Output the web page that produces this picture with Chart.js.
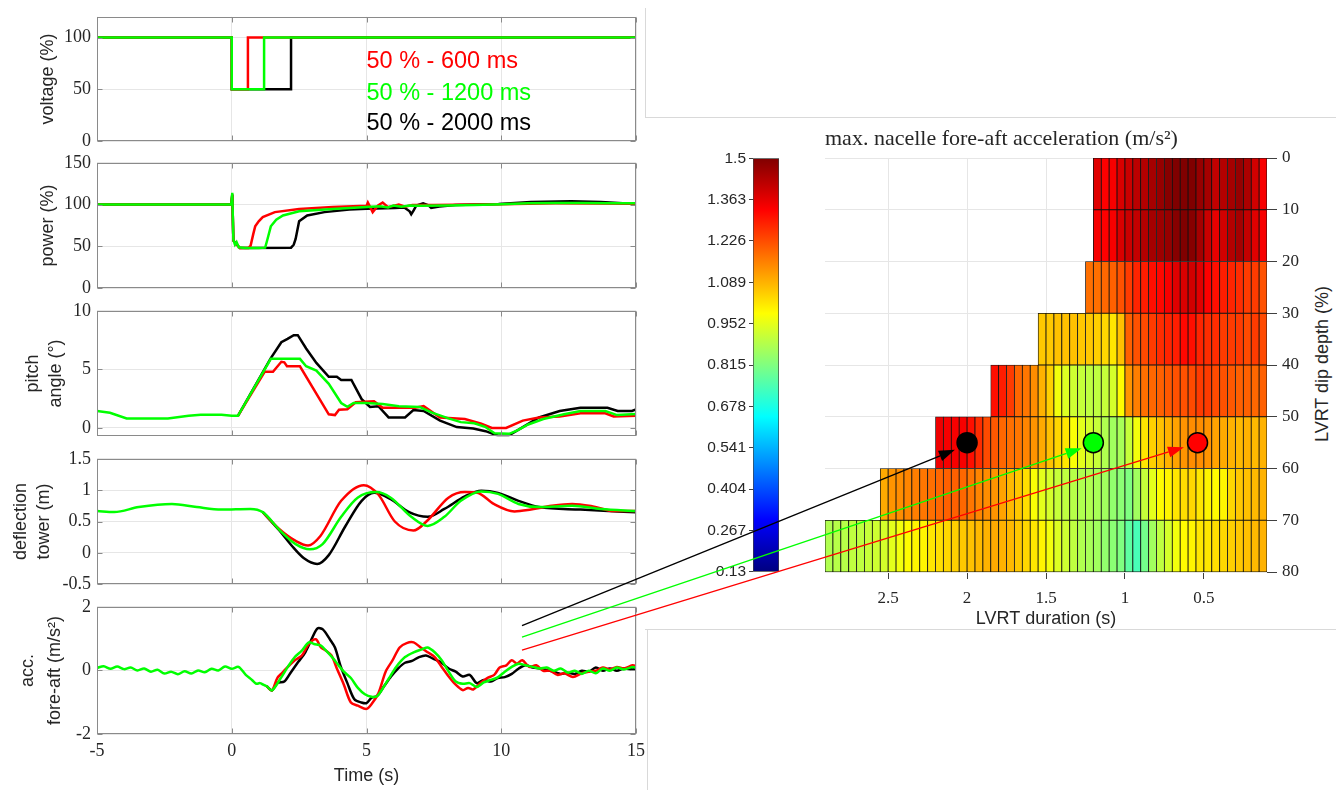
<!DOCTYPE html>
<html>
<head>
<meta charset="utf-8">
<title>LVRT response and nacelle fore-aft acceleration</title>
<script src="https://cdn.jsdelivr.net/npm/chart.js@4.4.1/dist/chart.umd.min.js"></script>
<style>
  html, body { margin: 0; padding: 0; background: #fff; }
  #page { position: relative; width: 1336px; height: 790px; overflow: hidden; }
  canvas { position: absolute; }
  .sep { position: absolute; background: #d9d9d9; }
  #depthTitle {
    position: absolute; left: 1322px; top: 364px;
    transform: translate(-50%, -50%) rotate(-90deg);
    font: 18px "Liberation Sans", Arial, sans-serif; color: #262626; white-space: nowrap;
  }
</style>
</head>
<body>
<div id="page">
  <div class="sep" style="left:645px;top:8px;width:1px;height:110px"></div>
  <div class="sep" style="left:645px;top:117px;width:691px;height:1px"></div>
  <div class="sep" style="left:645px;top:629px;width:691px;height:1px"></div>
  <div class="sep" style="left:647px;top:629px;width:1px;height:161px"></div>

  <canvas id="voltageChart" width="660" height="158" style="left:0;top:0"></canvas>
  <canvas id="powerChart" width="660" height="159" style="left:0;top:146px"></canvas>
  <canvas id="pitchChart" width="660" height="159" style="left:0;top:294px"></canvas>
  <canvas id="towerChart" width="660" height="159" style="left:0;top:442px"></canvas>
  <canvas id="accChart" width="660" height="200" style="left:0;top:590px"></canvas>
  <canvas id="colorbarChart" width="110" height="438" style="left:680px;top:146px"></canvas>
  <canvas id="heatmapChart" width="1336" height="790" style="left:0;top:0;z-index:3"></canvas>
  <div id="depthTitle">LVRT dip depth (%)</div>
</div>

<script>
// ---- time series data: [time (s), value] ----
const timeTicks = [-5, 0, 5, 10, 15];
const voltTicks = [0, 50, 100];
const powerTicks = [0, 50, 100, 150];
const pitchTicks = [0, 5, 10];
const towerTicks = [-0.5, 0, 0.5, 1, 1.5];
const accTicks = [-2, 0, 2];

const caseLabels = ["50 % - 600 ms", "50 % - 1200 ms", "50 % - 2000 ms"];
const caseColors = ["#ff0000", "#00ff00", "#000000"];
const labelTime = 5.0;
const labelLevels = [77, 46, 17];

const voltageRed = [[-5, 100], [0, 100], [0, 50], [0.6, 50], [0.6, 100], [15, 100]];
const voltageGreen = [[-5, 100], [0, 100], [0, 50], [1.2, 50], [1.2, 100], [15, 100]];
const voltageBlack = [[-5, 100], [0, 100], [0, 50], [2.2, 50], [2.2, 100], [15, 100]];

const powerGreen = [[-5, 100], [-0.02, 100], [0.02, 114], [0.06, 58], [0.12, 52], [0.18, 55], [0.26, 49],
  [0.5, 48], [1.0, 48], [1.24, 48.5], [1.32, 58], [1.45, 74], [1.65, 82], [1.9, 87], [2.5, 92], [3.75, 94.6],
  [5, 97], [5.5, 98], [5.8, 96.5], [6.0, 99], [6.3, 97.5], [6.6, 99], [7, 98.5], [8, 99], [9, 99.5],
  [10, 100.5], [11, 101.5], [12, 102], [13, 102], [14, 101.5], [15, 101.5]];
const powerRed = [[-5, 100], [-0.02, 100], [0.02, 112], [0.06, 57], [0.3, 48], [0.62, 48], [0.7, 51],
  [0.8, 65], [0.87, 74], [1.0, 80], [1.15, 85], [1.6, 91], [2.5, 94.6], [3.75, 97], [5, 98.5], [5.05, 102.5],
  [5.23, 91], [5.43, 99], [5.6, 102.5], [5.8, 97], [6.2, 100], [6.43, 97.6], [6.7, 99.5], [7.5, 99.5],
  [10, 100.5], [12, 101.5], [15, 101]];
const powerBlack = [[-5, 100], [-0.02, 100], [0.02, 112], [0.06, 57], [0.3, 48], [2.2, 48.5], [2.3, 52],
  [2.37, 59], [2.5, 80], [2.8, 87], [3.44, 91], [4.36, 94], [5, 95], [6.05, 96], [6.4, 96.5], [6.6, 92],
  [6.66, 88.5], [6.75, 93], [6.85, 99], [7.1, 101.4], [7.3, 99], [7.4, 96], [7.7, 97.6], [8.3, 99.5],
  [9.9, 100.6], [11.1, 103], [12.6, 104], [13.7, 103], [15, 100.6]];

const pitchGreen = [[-5, 1.45], [-4.52, 1.3], [-3.9, 0.82], [-2.37, 0.82], [-1.6, 1.04], [-1.15, 1.12],
  [-0.38, 1.12], [0, 1.04], [0.23, 1.04], [1.45, 5.9], [2.53, 5.9], [2.76, 5.27], [3.14, 4.9], [3.6, 3.77],
  [4.06, 2.13], [4.29, 1.8], [4.52, 2.13], [5.0, 2.13], [5.6, 2.05], [6.2, 1.86], [6.97, 1.8], [7.43, 1.31],
  [8.04, 0.82], [8.5, 0.5], [9.0, 0.4], [9.4, 0.1], [9.75, -0.45], [10.3, -0.5], [10.6, -0.2], [11.0, 0.3],
  [11.56, 0.77], [12.33, 1.17], [12.94, 1.45], [13.86, 1.45], [14.3, 1.1], [15, 1.2]];
const pitchRed = [[0.23, 1.04], [1.22, 4.8], [1.53, 4.8], [1.84, 5.65], [1.95, 5.6], [2.05, 5.27],
  [2.53, 5.27], [3.6, 1.17], [3.83, 1.1], [3.98, 1.55], [4.29, 1.6], [4.6, 2.2], [5.28, 2.27], [5.6, 1.72],
  [6.8, 1.72], [7.12, 1.86], [7.73, 0.9], [8.65, 0.77], [9.26, 0.36], [9.65, 0], [10.18, 0], [10.8, 0.63],
  [11.4, 0.9], [12.17, 0.98], [12.94, 1.26], [13.86, 1.26], [14.17, 0.98], [15, 1.04]];
const pitchBlack = [[0.23, 1.04], [1.45, 5.96], [1.84, 7.32], [2.07, 7.6], [2.3, 7.92], [2.45, 7.92],
  [2.76, 6.78], [3.14, 5.55], [3.6, 4.37], [3.9, 4.37], [4.06, 4.1], [4.44, 4.1], [4.82, 2.46], [5.13, 1.8],
  [5.44, 1.86], [5.82, 0.9], [6.43, 0.9], [6.74, 1.53], [7.12, 1.45], [7.73, 0.63], [8.35, 0.08],
  [8.96, -0.05], [9.42, -0.27], [9.88, -0.66], [10.26, -0.66], [10.8, 0.08], [11.4, 0.9], [12.17, 1.45],
  [12.94, 1.72], [13.94, 1.72], [14.32, 1.45], [14.85, 1.45], [15, 1.58]];

const towerGreen = [[-5, 0.667], [-4.36, 0.65], [-3.45, 0.73], [-2.22, 0.78], [-1.3, 0.73], [-0.38, 0.69],
  [0.69, 0.70], [1.15, 0.65], [1.76, 0.37], [2.37, 0.14], [2.9, 0.056], [3.37, 0.14], [4.06, 0.575],
  [4.67, 0.88], [5.36, 0.97], [5.9, 0.88], [6.66, 0.575], [7.27, 0.43], [7.89, 0.575], [8.5, 0.83],
  [9.26, 0.98], [9.88, 0.94], [10.64, 0.78], [11.4, 0.73], [12.63, 0.75], [13.7, 0.7], [15, 0.667]];
const towerRed = [[1.15, 0.65], [1.76, 0.38], [2.37, 0.19], [2.83, 0.117], [3.29, 0.27], [4.06, 0.83],
  [4.9, 1.08], [5.44, 0.93], [6.05, 0.5], [6.74, 0.356], [7.27, 0.52], [8.04, 0.88], [8.65, 0.97],
  [9.11, 0.96], [9.72, 0.78], [10.49, 0.66], [11.1, 0.69], [11.87, 0.75], [12.63, 0.78], [13.4, 0.74],
  [14.17, 0.667], [15, 0.667]];
const towerBlack = [[1.15, 0.65], [1.76, 0.36], [2.22, 0.117], [2.68, -0.087], [3.17, -0.178], [3.6, -0.036],
  [4.21, 0.42], [4.82, 0.83], [5.28, 0.957], [5.9, 0.855], [6.58, 0.65], [7.27, 0.575], [7.89, 0.7],
  [8.65, 0.9], [9.26, 0.99], [9.88, 0.957], [10.64, 0.83], [11.4, 0.73], [12.94, 0.69], [15, 0.646]];

const accGreen = [[-5, 0.08], [-4.75, 0.13], [-4.5, 0.05], [-4.25, 0.12], [-4, 0.04], [-3.75, 0.09],
  [-3.5, 0.0], [-3.25, 0.06], [-3, -0.04], [-2.75, 0.02], [-2.5, -0.1], [-2.25, -0.04], [-2, -0.12],
  [-1.75, -0.03], [-1.5, -0.1], [-1.25, 0.0], [-1, -0.06], [-0.75, 0.05], [-0.5, 0.0], [-0.25, 0.12],
  [0, 0.05], [0.25, 0.11], [0.52, -0.14], [0.75, -0.3], [0.91, -0.42], [1.05, -0.4], [1.17, -0.45],
  [1.3, -0.5], [1.49, -0.63], [1.82, -0.24], [2.08, 0.11], [2.34, 0.42], [2.6, 0.62], [2.86, 0.88],
  [3.05, 0.83], [3.31, 0.78], [3.5, 0.62], [3.77, 0.37], [3.96, 0.16], [4.16, -0.04], [4.42, -0.24],
  [4.68, -0.55], [4.94, -0.75], [5.19, -0.83], [5.39, -0.81], [5.58, -0.6], [5.84, -0.24], [6.1, 0.11],
  [6.43, 0.42], [6.75, 0.57], [7.08, 0.67], [7.27, 0.72], [7.53, 0.57], [7.79, 0.32], [8.05, -0.04],
  [8.31, -0.35], [8.57, -0.42], [8.83, -0.4], [9.09, -0.52], [9.35, -0.38], [9.61, -0.3], [9.87, -0.22],
  [10.13, -0.04], [10.39, 0.11], [10.65, 0.21], [10.9, 0.16], [11.17, 0.11], [11.43, 0.06], [11.69, 0.09],
  [11.95, -0.01], [12.21, 0.06], [12.47, -0.07], [12.73, -0.01], [12.99, -0.11], [13.25, -0.01],
  [13.51, -0.09], [13.77, 0.06], [14.03, -0.01], [14.29, 0.09], [14.55, 0.03], [14.87, 0.11], [15, 0.08]];
const accRed = [[1.3, -0.5], [1.49, -0.63], [1.69, -0.24], [1.88, -0.07], [2.08, 0.11], [2.34, 0.32],
  [2.6, 0.47], [2.86, 0.83], [3.12, 0.98], [3.31, 0.72], [3.5, 0.62], [3.7, 0.47], [3.9, 0.06], [4.16, -0.45],
  [4.42, -1.01], [4.68, -1.11], [5.0, -1.21], [5.19, -1.06], [5.45, -0.7], [5.71, -0.04], [5.97, 0.32],
  [6.23, 0.72], [6.49, 0.86], [6.75, 0.88], [7.01, 0.72], [7.27, 0.57], [7.53, 0.42], [7.79, 0.11],
  [8.05, -0.19], [8.31, -0.45], [8.57, -0.62], [8.77, -0.55], [8.96, -0.6], [9.22, -0.4], [9.48, -0.24],
  [9.74, -0.14], [9.94, 0.09], [10.19, 0.16], [10.39, 0.32], [10.58, 0.21], [10.78, 0.32], [11.04, 0.11],
  [11.3, 0.16], [11.56, -0.01], [11.82, -0.01], [12.08, -0.14], [12.34, -0.09], [12.66, -0.21],
  [12.99, -0.09], [13.25, -0.04], [13.51, -0.01], [13.77, 0.09], [14.03, 0.03], [14.29, 0.11],
  [14.55, 0.06], [14.87, 0.16], [15, 0.14]];
const accBlack = [[1.3, -0.5], [1.49, -0.63], [1.69, -0.4], [1.95, -0.35], [2.21, -0.04], [2.47, 0.27],
  [2.73, 0.57], [2.99, 1.03], [3.18, 1.32], [3.38, 1.29], [3.64, 0.98], [3.83, 0.72], [4.03, 0.16],
  [4.29, -0.4], [4.55, -0.91], [4.81, -1.01], [5.0, -1.03], [5.19, -0.86], [5.39, -0.81], [5.65, -0.5],
  [5.91, -0.19], [6.17, 0.06], [6.43, 0.24], [6.69, 0.3], [6.95, 0.42], [7.21, 0.47], [7.47, 0.37],
  [7.73, 0.27], [8.05, 0.06], [8.31, -0.04], [8.57, -0.19], [8.83, -0.14], [9.09, -0.4], [9.35, -0.3],
  [9.61, -0.35], [9.87, -0.24], [10.13, -0.21], [10.39, -0.11], [10.65, 0.06], [10.9, 0.16], [11.17, 0.09],
  [11.43, 0.06], [11.69, 0.01], [11.95, -0.04], [12.21, -0.11], [12.47, -0.07], [12.73, -0.11],
  [12.99, -0.01], [13.25, -0.04], [13.51, 0.09], [13.77, -0.01], [14.03, 0.06], [14.29, -0.01],
  [14.55, 0.06], [14.87, 0.03], [15, 0.05]];

// ---- heatmap data: max. nacelle fore-aft acceleration (m/s^2) ----
// upper edge of each duration bin (s), longest first
const cellDurations = [2.9, 2.85, 2.8, 2.75, 2.7, 2.65, 2.6, 2.55, 2.5, 2.45, 2.4, 2.35, 2.3, 2.25, 2.2,
  2.15, 2.1, 2.05, 2.0, 1.95, 1.9, 1.85, 1.8, 1.75, 1.7, 1.65, 1.6, 1.55, 1.5, 1.45, 1.4, 1.35, 1.3, 1.25,
  1.2, 1.15, 1.1, 1.05, 1.0, 0.95, 0.9, 0.85, 0.8, 0.75, 0.7, 0.65, 0.6, 0.55, 0.5, 0.45, 0.4, 0.35, 0.3,
  0.25, 0.2, 0.15];
const cellWidth = 0.05;
const dipDepthBins = [5, 15, 25, 35, 45, 55, 65, 75];
const accRow0 = [1.37, 1.33, 1.34, 1.38, 1.40, 1.42, 1.43, 1.45, 1.47, 1.49, 1.50, 1.50, 1.50, 1.47, 1.45,
  1.41, 1.43, 1.45, 1.47, 1.44, 1.39, 1.34];
const accRow10 = [1.34, 1.33, 1.34, 1.38, 1.40, 1.41, 1.43, 1.45, 1.46, 1.47, 1.49, 1.50, 1.49, 1.45, 1.40,
  1.36, 1.39, 1.43, 1.45, 1.41, 1.37, 1.34];
const accRow20 = [1.18, 1.18, 1.19, 1.20, 1.22, 1.25, 1.28, 1.29, 1.31, 1.32, 1.34, 1.37, 1.38, 1.39, 1.37,
  1.33, 1.31, 1.29, 1.28, 1.27, 1.25, 1.25, 1.22];
const accRow30 = [1.06, 1.06, 1.07, 1.07, 1.07, 1.06, 1.06, 1.05, 1.04, 1.02, 1.07, 1.20, 1.22, 1.23, 1.25,
  1.27, 1.28, 1.29, 1.32, 1.31, 1.28, 1.27, 1.27, 1.25, 1.25, 1.25, 1.23, 1.25, 1.23];
const accRow40 = [1.31, 1.29, 1.25, 1.19, 1.17, 1.14, 1.09, 1.05, 0.97, 0.94, 0.92, 0.91, 0.90, 0.90, 0.91,
  0.93, 0.99, 1.13, 1.16, 1.18, 1.19, 1.20, 1.21, 1.22, 1.22, 1.23, 1.25, 1.25, 1.23, 1.22, 1.21, 1.20,
  1.20, 1.19, 1.20];
const accRow50 = [1.35, 1.34, 1.34, 1.34, 1.31, 1.27, 1.23, 1.21, 1.19, 1.18, 1.17, 1.15, 1.13, 1.10, 1.07,
  1.04, 1.02, 0.98, 0.95, 0.93, 0.91, 0.88, 0.86, 0.87, 0.91, 0.97, 1.02, 1.05, 1.07, 1.09, 1.11, 1.13,
  1.14, 1.14, 1.13, 1.11, 1.10, 1.09, 1.08, 1.09, 1.08, 1.09];
const accRow60 = [1.10, 1.13, 1.14, 1.15, 1.16, 1.17, 1.18, 1.19, 1.20, 1.20, 1.19, 1.17, 1.15, 1.14, 1.13,
  1.11, 1.08, 1.06, 1.03, 0.98, 0.95, 0.93, 0.91, 0.90, 0.89, 0.88, 0.88, 0.87, 0.86, 0.84, 0.83, 0.815,
  0.86, 0.91, 0.95, 0.99, 1.00, 1.02, 1.03, 1.04, 1.02, 1.00, 0.99, 1.00, 1.04, 1.06, 1.07, 1.08, 1.09];
const accRow70 = [0.88, 0.89, 0.89, 0.90, 0.90, 0.91, 0.92, 0.93, 0.95, 0.97, 0.99, 1.00, 1.00, 1.02, 1.03,
  1.04, 1.05, 1.06, 1.07, 1.08, 1.09, 1.10, 1.09, 1.08, 1.06, 1.04, 1.02, 1.00, 0.97, 0.94, 0.92, 0.90,
  0.88, 0.87, 0.86, 0.84, 0.83, 0.815, 0.77, 0.74, 0.80, 0.86, 0.90, 0.93, 0.97, 0.99, 1.00, 1.02, 1.02,
  1.03, 1.04, 1.05, 1.06, 1.07, 1.08, 1.09];
const accRows = [accRow0, accRow10, accRow20, accRow30, accRow40, accRow50, accRow60, accRow70];
const durationTicks = [2.5, 2, 1.5, 1, 0.5];

const colorMin = 0.13;
const colorMax = 1.5;
const colorTicks = [0.13, 0.267, 0.404, 0.541, 0.678, 0.815, 0.952, 1.089, 1.226, 1.363, 1.5];

// marked cases on the map and the arrows pointing to them
const dotDuration = [2.0, 1.2, 0.54];
const dotDepth = [55, 55, 55];
const dotColors = ["#000000", "#00ff00", "#ff0000"];
const arrowStartTime = 10.77;
const arrowStartAcc = [1.41, 1.05, 0.64];
const arrowEndDuration = [2.077, 1.274, 0.626];
const arrowEndDepth = [56.4, 56.1, 55.9];

const SERIF = '"Liberation Serif", "Times New Roman", serif';
const SANS = '"Liberation Sans", Arial, sans-serif';
const TEXT = "#262626";

/**
 * MATLAB-like jet colormap, f in [0, 1]
 */
function jetColor(f) {
  const c = (v) => Math.round(255 * Math.min(1, Math.max(0, v)));
  return `rgb(${c(1.5 - Math.abs(4 * f - 3))}, ${c(1.5 - Math.abs(4 * f - 2))}, ${c(1.5 - Math.abs(4 * f - 1))})`;
}

function accelColor(v) {
  return jetColor((v - colorMin) / (colorMax - colorMin));
}

// Box around the axes with inward tick marks
const framePlugin = {
  id: "frame",
  afterDatasetsDraw(chart) {
    const { ctx, chartArea: a, scales } = chart;
    const l = Math.round(a.left) + 0.5, r = Math.round(a.right) - 0.5;
    const t = Math.round(a.top) + 0.5, b = Math.round(a.bottom) - 0.5;
    ctx.save();
    ctx.strokeStyle = "#8a8a8a";
    ctx.lineWidth = 1;
    ctx.strokeRect(l, t, r - l, b - t);
    ctx.beginPath();
    scales.x.ticks.forEach((tk) => {
      const px = Math.round(scales.x.getPixelForValue(tk.value)) + 0.5;
      ctx.moveTo(px, b); ctx.lineTo(px, b - 5);
      ctx.moveTo(px, t); ctx.lineTo(px, t + 5);
    });
    scales.y.ticks.forEach((tk) => {
      const py = Math.round(scales.y.getPixelForValue(tk.value)) + 0.5;
      ctx.moveTo(l, py); ctx.lineTo(l + 5, py);
      ctx.moveTo(r, py); ctx.lineTo(r - 5, py);
    });
    ctx.stroke();
    ctx.restore();
  },
};

// Case labels written inside the voltage panel
const caseLabelPlugin = {
  id: "caseLabels",
  afterDatasetsDraw(chart) {
    const { ctx, scales: { x, y } } = chart;
    ctx.save();
    ctx.font = "23.5px " + SANS;
    ctx.textBaseline = "middle";
    caseLabels.forEach((txt, i) => {
      ctx.fillStyle = caseColors[i];
      ctx.fillText(txt, x.getPixelForValue(labelTime), y.getPixelForValue(labelLevels[i]));
    });
    ctx.restore();
  },
};

/**
 * One time-series panel of the left column
 */
function timePanel(canvasId, series, yMin, yMax, yTicks, yTitle, titleOpts, opts) {
  const isBottom = !!opts.bottom;
  return new Chart(document.getElementById(canvasId), {
    type: "line",
    data: {
      datasets: series.map((s) => ({
        data: s.data,
        borderColor: s.color,
        borderWidth: 2.5,
        pointRadius: 0,
        fill: false,
        tension: opts.tension || 0,
        cubicInterpolationMode: opts.monotone ? "monotone" : "default",
      })),
    },
    options: {
      animation: false,
      responsive: false,
      events: [],
      layout: { padding: { left: 0, right: 24, top: 14, bottom: isBottom ? 0 : 14 } },
      plugins: { legend: { display: false }, tooltip: { enabled: false } },
      scales: {
        x: {
          type: "linear",
          min: -5,
          max: 15,
          afterBuildTicks: (s) => { s.ticks = timeTicks.map((v) => ({ value: v })); },
          afterFit: (s) => { s.height = isBottom ? 56 : 0; },
          ticks: {
            display: isBottom,
            font: { family: SERIF, size: 18 },
            color: TEXT,
            padding: 6,
            maxRotation: 0,
            callback: (v) => String(v),
          },
          grid: { color: "#e6e6e6", drawTicks: false },
          border: { display: false },
          title: {
            display: isBottom,
            text: "Time (s)",
            font: { family: SANS, size: 18 },
            color: TEXT,
            padding: { top: 0, bottom: 3 },
          },
        },
        y: {
          type: "linear",
          min: yMin,
          max: yMax,
          afterBuildTicks: (s) => { s.ticks = yTicks.map((v) => ({ value: v })); },
          afterFit: (s) => { s.width = 97; },
          ticks: {
            font: { family: SERIF, size: 18 },
            color: TEXT,
            padding: 6,
            callback: (v) => String(v),
          },
          grid: { color: "#e6e6e6", drawTicks: false },
          border: { display: false },
          title: {
            display: true,
            text: yTitle,
            font: { family: SANS, size: 18, lineHeight: titleOpts.lineHeight || 1.25 },
            color: TEXT,
            padding: { top: titleOpts.pad, bottom: 0 },
          },
        },
      },
    },
    plugins: [framePlugin].concat(opts.plugins || []),
  });
}

const caseSeries = (green, red, black) => [
  { data: green, color: "#00ff00" },
  { data: red, color: "#ff0000" },
  { data: black, color: "#000000" },
];

timePanel("voltageChart", caseSeries(voltageGreen, voltageRed, voltageBlack), 0, 120, voltTicks,
  "voltage (%)", { pad: 37 }, { plugins: [caseLabelPlugin] });
timePanel("powerChart", caseSeries(powerGreen, powerRed, powerBlack), 0, 150, powerTicks,
  "power (%)", { pad: 37 }, {});
timePanel("pitchChart", caseSeries(pitchGreen, pitchRed, pitchBlack), -0.7, 10, pitchTicks,
  ["pitch", "angle (°)"], { pad: 22 }, {});
timePanel("towerChart", caseSeries(towerGreen, towerRed, towerBlack), -0.5, 1.5, towerTicks,
  ["deflection", "tower (m)"], { pad: 10 }, { monotone: true });
const accChart = timePanel("accChart", caseSeries(accGreen, accRed, accBlack), -2, 2, accTicks,
  ["acc.", "fore-aft (m/s²)"], { pad: 15, lineHeight: 1.5 }, { bottom: true, tension: 0.3 });

// ---- colorbar ----
new Chart(document.getElementById("colorbarChart"), {
  type: "bar",
  data: {
    labels: [""],
    datasets: [{
      data: [[colorMin, colorMax]],
      backgroundColor: (context) => {
        const { ctx, chartArea } = context.chart;
        if (!chartArea) return null;
        const g = ctx.createLinearGradient(0, chartArea.bottom, 0, chartArea.top);
        for (let i = 0; i <= 16; i++) g.addColorStop(i / 16, jetColor(i / 16));
        return g;
      },
      borderColor: "#404040",
      borderWidth: 1,
      borderSkipped: false,
      barPercentage: 1,
      categoryPercentage: 1,
    }],
  },
  options: {
    animation: false,
    responsive: false,
    events: [],
    layout: { padding: { left: 0, top: 10, right: 11, bottom: 10 } },
    plugins: { legend: { display: false }, tooltip: { enabled: false } },
    scales: {
      x: { display: false },
      y: {
        type: "linear",
        min: colorMin,
        max: colorMax,
        afterBuildTicks: (s) => { s.ticks = colorTicks.map((v) => ({ value: v })); },
        afterFit: (s) => { s.width = 73; },
        ticks: { font: { family: SANS, size: 15.5 }, color: TEXT, padding: 3, callback: (v) => String(v) },
        grid: { drawOnChartArea: false, tickLength: 4, tickColor: "#404040" },
        border: { display: false },
      },
    },
  },
});

// ---- heatmap ----
const heatCells = [];
const heatColors = [];
accRows.forEach((row, r) => {
  const offset = cellDurations.length - row.length;
  row.forEach((v, i) => {
    const d = cellDurations[offset + i];
    heatCells.push({ y: dipDepthBins[r], x: [d - cellWidth, d] });
    heatColors.push(accelColor(v));
  });
});

// Arrows from the time-series panel to the marked cases on the map
const arrowPlugin = {
  id: "caseArrows",
  afterDatasetsDraw(chart) {
    const { ctx, scales: { x, y } } = chart;
    const accTop = parseFloat(accChart.canvas.style.top);
    ctx.save();
    arrowEndDuration.forEach((d, i) => {
      const x0 = accChart.scales.x.getPixelForValue(arrowStartTime);
      const y0 = accTop + accChart.scales.y.getPixelForValue(arrowStartAcc[i]);
      const x1 = x.getPixelForValue(d);
      const y1 = y.getPixelForValue(arrowEndDepth[i]);
      const ang = Math.atan2(y1 - y0, x1 - x0);
      const headLen = 16, headHalf = 5.5;
      const bx = x1 - headLen * Math.cos(ang), by = y1 - headLen * Math.sin(ang);
      ctx.strokeStyle = dotColors[i];
      ctx.fillStyle = dotColors[i];
      ctx.lineWidth = 1.3;
      ctx.beginPath();
      ctx.moveTo(x0, y0);
      ctx.lineTo(bx, by);
      ctx.stroke();
      ctx.beginPath();
      ctx.moveTo(x1, y1);
      ctx.lineTo(bx + headHalf * Math.sin(ang), by - headHalf * Math.cos(ang));
      ctx.lineTo(bx - headHalf * Math.sin(ang), by + headHalf * Math.cos(ang));
      ctx.closePath();
      ctx.fill();
    });
    ctx.restore();
  },
};

new Chart(document.getElementById("heatmapChart"), {
  type: "bar",
  data: {
    datasets: [
      {
        type: "scatter",
        data: dotDuration.map((d, i) => ({ x: d, y: dotDepth[i] })),
        pointRadius: 10,
        pointBackgroundColor: dotColors,
        pointBorderColor: "#000000",
        pointBorderWidth: 1.5,
        order: 0,
      },
      {
        data: heatCells,
        backgroundColor: heatColors,
        borderColor: "#111111",
        borderWidth: 0.8,
        borderSkipped: false,
        barPercentage: 1,
        categoryPercentage: 1,
        order: 1,
      },
    ],
  },
  options: {
    indexAxis: "y",
    animation: false,
    responsive: false,
    events: [],
    layout: { padding: { left: 825, top: 114, right: 9, bottom: 160 } },
    plugins: {
      legend: { display: false },
      tooltip: { enabled: false },
      title: {
        display: true,
        text: "max. nacelle fore-aft acceleration (m/s²)",
        align: "start",
        fullSize: false,
        font: { family: SERIF, size: 22, weight: "normal" },
        color: TEXT,
        padding: { top: 12, bottom: 5.6 },
      },
    },
    scales: {
      x: {
        type: "linear",
        min: 0.1,
        max: 2.9,
        reverse: true,
        offset: false,
        afterBuildTicks: (s) => { s.ticks = durationTicks.map((v) => ({ value: v })); },
        afterFit: (s) => { s.height = 58; },
        ticks: { font: { family: SERIF, size: 17 }, color: TEXT, padding: 9, maxRotation: 0, callback: (v) => String(v) },
        grid: { color: "#e6e6e6", tickColor: "#404040", tickLength: 7, offset: false },
        border: { display: false },
        title: {
          display: true,
          text: "LVRT duration (s)",
          font: { family: SANS, size: 18 },
          color: TEXT,
          padding: { top: 0, bottom: 0 },
        },
      },
      y: {
        type: "linear",
        position: "right",
        min: 0,
        max: 80,
        reverse: true,
        offset: false,
        afterFit: (s) => { s.width = 60; },
        ticks: { stepSize: 10, font: { family: SERIF, size: 17 }, color: TEXT, padding: 5 },
        grid: { color: "#e6e6e6", tickColor: "#404040", tickLength: 10, offset: false },
        border: { display: false },
      },
    },
  },
  plugins: [arrowPlugin],
});
</script>
</body>
</html>
